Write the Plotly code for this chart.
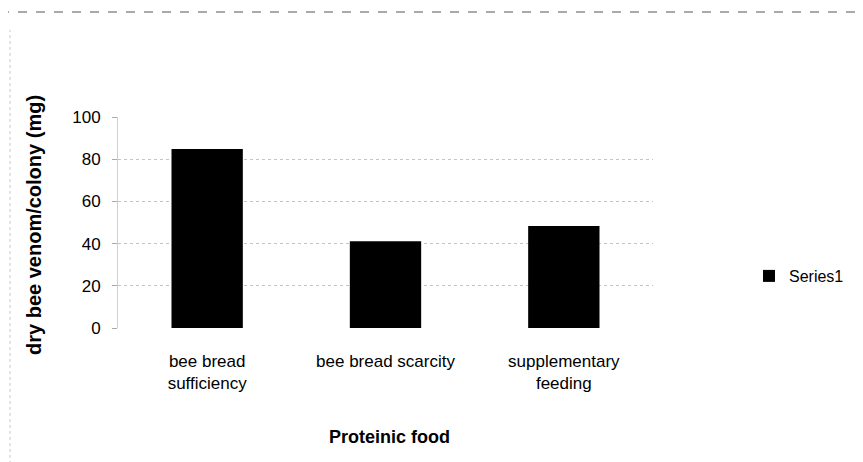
import plotly.graph_objects as go

categories = ["bee bread<br>sufficiency", "bee bread scarcity", "supplementary<br>feeding"]
values = [84.8, 41.1, 48.3]
series_name = "Series1"
y_ticks = [0, 20, 40, 60, 80, 100]
x_title = "Proteinic food"
y_title = "dry bee venom/colony (mg)"

FONT = "Liberation Sans, Arial, sans-serif"
OFF = 8  # page body margin offset
PLOT_L, PLOT_R, PLOT_T, PLOT_B = 118 - OFF, 653 - OFF, 117 - OFF, 328 - OFF
PW, PH = PLOT_R - PLOT_L, PLOT_B - PLOT_T


def px(x):
    return (x - OFF - PLOT_L) / PW


def py(y):
    return (PLOT_B - (y - OFF)) / PH


fig = go.Figure()
fig.add_trace(go.Bar(
    x=categories, y=values, name=series_name,
    marker=dict(color="black", line=dict(width=0)),
    width=0.4, showlegend=True,
))

fig.update_layout(
    width=863, height=462,
    margin=dict(l=PLOT_L, r=863 - PLOT_R, t=PLOT_T, b=462 - PLOT_B, autoexpand=False),
    paper_bgcolor="white", plot_bgcolor="white",
    font=dict(family=FONT, color="black", size=16),
    showlegend=True,
    legend=dict(x=px(749), y=py(276), xanchor="left", yanchor="middle",
                font=dict(size=16, family=FONT), bgcolor="rgba(0,0,0,0)",
                itemwidth=30),
    shapes=[
        dict(type="line", xref="paper", yref="paper", x0=px(0), x1=px(871),
             y0=py(12), y1=py(12),
             line=dict(color="#555", width=1, dash="dash")),
        dict(type="line", xref="paper", yref="paper", x0=px(10), x1=px(10),
             y0=py(470), y1=py(30),
             line=dict(color="#c8c8c8", width=1, dash="dot")),
    ],
    annotations=[
        dict(text="<b>" + y_title + "</b>", xref="paper", yref="paper",
             x=px(34), y=py(225), xanchor="center", yanchor="middle",
             textangle=-90, showarrow=False, font=dict(size=20, family=FONT)),
        dict(text="<b>" + x_title + "</b>", xref="paper", yref="paper",
             x=px(389), y=py(437), xanchor="center", yanchor="middle",
             showarrow=False, font=dict(size=18, family=FONT)),
    ],
)

fig.update_yaxes(
    range=[0, 100], tickvals=y_ticks, ticktext=[str(v) for v in y_ticks],
    showgrid=True, gridcolor="#c4c4c4", griddash="dot", gridwidth=1,
    showline=True, linecolor="#d0d0d0", linewidth=1,
    ticks="outside", ticklen=5, tickcolor="#aaaaaa",
    zeroline=False, tickfont=dict(size=17, family=FONT),
    ticklabelstandoff=8, fixedrange=True, automargin=False,
)
fig.update_xaxes(
    showgrid=False, showline=False, zeroline=False,
    tickfont=dict(size=17, family=FONT), ticklabelstandoff=21,
    automargin=False, fixedrange=True,
)

fig.write_html("out.html")
